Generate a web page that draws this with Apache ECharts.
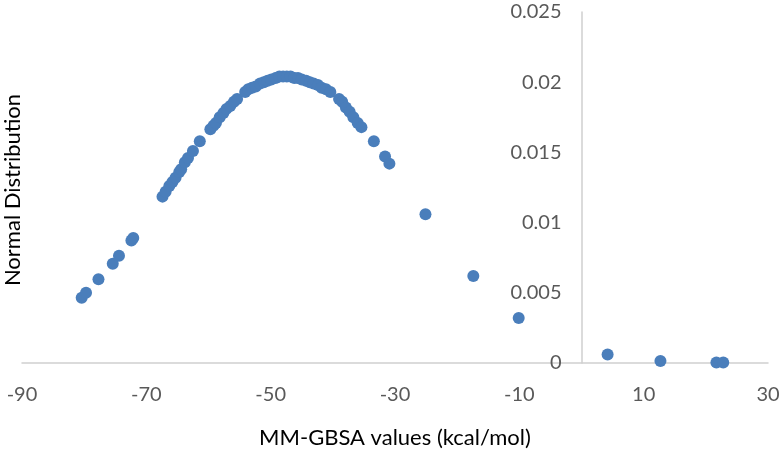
<!DOCTYPE html>
<html>
<head>
<meta charset="utf-8">
<script src="https://cdn.jsdelivr.net/npm/echarts@6/dist/echarts.min.js"></script>
<style>html,body{margin:0;padding:0;background:#fff}#c{width:784px;height:450px}</style>
</head>
<body>
<div id="c"></div>
<script>
// MM-GBSA values (kcal/mol)
const mmgbsa = [
  -80.4, -79.7, -77.7, -75.4, -74.4, -72.4, -72.1,
  -67.4, -66.9, -66.3, -65.8, -65.3, -64.7, -64.4, -63.8, -63.3, -62.5, -61.4,
  -59.7, -59.2, -58.8, -58.2, -57.6, -57.1, -56.5, -55.9, -55.4,
  -54.1, -53.6, -53.0, -52.4, -51.7, -51.1, -50.5, -49.9, -49.2, -48.6, -48.0,
  -47.4, -46.8, -46.2, -45.6, -45.0, -44.3, -43.7, -43.1, -42.4, -41.8, -41.1, -40.4,
  -39.0, -38.5, -37.9, -37.3, -36.7, -36.0, -35.4,
  -33.4, -31.6, -30.9, -25.1, -17.4, -10.1, 4.2, 12.7, 21.7, 22.8
];
// Normal distribution values
const normDist = [
  0.00465, 0.00501, 0.00596, 0.00707, 0.00764, 0.00872, 0.00890,
  0.01185, 0.0122, 0.0126, 0.0129, 0.0132, 0.0136, 0.0138, 0.0143, 0.0146, 0.0151, 0.0158,
  0.01665, 0.0169, 0.0171, 0.0175, 0.0178, 0.0181, 0.0183, 0.0186, 0.0188,
  0.0193, 0.0195, 0.0196, 0.0197, 0.0199, 0.0200, 0.0201, 0.0202, 0.0203, 0.0204, 0.0204,
  0.0204, 0.0204, 0.0203, 0.0203, 0.0202, 0.0201, 0.0200, 0.0199, 0.0198, 0.0196, 0.0195, 0.0193,
  0.0188, 0.0186, 0.0182, 0.0179, 0.0175, 0.0171, 0.0168,
  0.0158, 0.0147, 0.0142, 0.0106, 0.0062, 0.0032, 0.0006, 0.00015, 0.00004, 0.00003
];
const xTitle = 'MM-GBSA values (kcal/mol)';
const yTitle = 'Normal Distribution';
const xMin = -90, xMax = 30;

const gridLeft = 22, gridRight = 16;
const plotW = 784 - gridLeft - gridRight;
// y axis crosses the x axis at x = 0
const yAxisOffset = -plotW * (0 - xMin) / (xMax - xMin);

const points = mmgbsa.map((x, i) => [x, normDist[i]]);
const chart = echarts.init(document.getElementById('c'), null, {renderer: 'canvas'});
const labelFont = {color: '#595959', fontSize: 20, fontFamily: 'Lato'};
chart.setOption({
  animation: false,
  grid: {left: gridLeft, right: gridRight, top: 12, bottom: 87, containLabel: false, outerBoundsMode: 'none'},
  xAxis: {
    type: 'value', min: xMin, max: xMax, interval: 20,
    axisLine: {onZero: false, lineStyle: {color: '#cfcfcf', width: 1.5}},
    axisTick: {show: false},
    splitLine: {show: false},
    axisLabel: Object.assign({margin: 22}, labelFont),
    name: xTitle, nameLocation: 'middle', nameGap: 64,
    nameTextStyle: {color: '#000', fontSize: 22, fontFamily: 'Lato'}
  },
  yAxis: {
    type: 'value', min: 0, max: 0.025, interval: 0.005,
    position: 'left', offset: yAxisOffset,
    axisLine: {show: true, onZero: false, lineStyle: {color: '#cfcfcf', width: 1.5}},
    axisTick: {show: false},
    splitLine: {show: false},
    axisLabel: Object.assign({margin: 20}, labelFont)
  },
  graphic: [{
    type: 'text', rotation: Math.PI / 2,
    x: 13, y: 190,
    style: {text: yTitle, fill: '#000', fontSize: 22, fontFamily: 'Lato', align: 'center', verticalAlign: 'middle'}
  }],
  series: [{
    type: 'scatter', data: points, symbolSize: 12,
    itemStyle: {color: '#4a7ebb', opacity: 1}
  }]
});
</script>
</body>
</html>
